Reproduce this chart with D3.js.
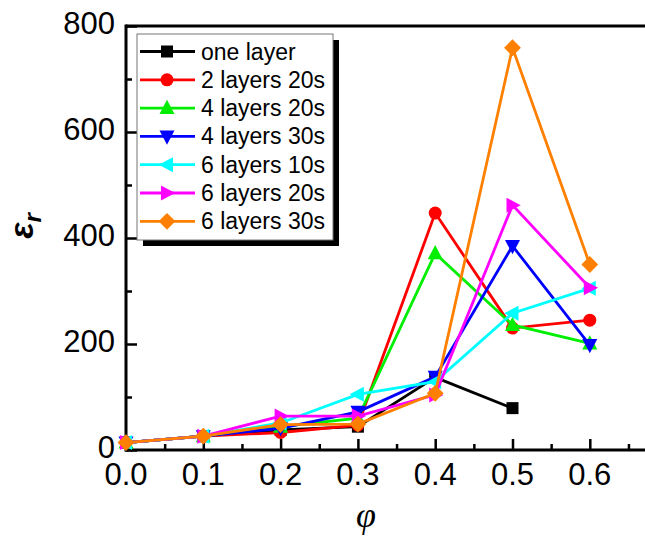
<!DOCTYPE html>
<html><head><meta charset="utf-8">
<script src="https://cdn.jsdelivr.net/npm/d3@7"></script>
<style>body{margin:0;background:#fff}svg{display:block}</style>
</head><body>
<svg id="c" width="645" height="537"></svg>
<script>
const phi = [0.0, 0.1, 0.2, 0.3, 0.4, 0.5, 0.6];
const seriesNames = ["one layer", "2 layers 20s", "4 layers 20s", "4 layers 30s", "6 layers 10s", "6 layers 20s", "6 layers 30s"];
const seriesColors = ["#000000", "#ff0000", "#00ee00", "#0000ff", "#00ffff", "#ff00ff", "#ff8000"];
const seriesMarkers = ["square", "circle", "triUp", "triDown", "triLeft", "triRight", "diamond"];
const oneLayer   = [14, 26, 38, 44, 137, 79, null];
const l2s20      = [14, 26, 33, 47, 447, 230, 245];
const l4s20      = [14, 26, 44, 60, 371, 236, 201];
const l4s30      = [14, 26, 41, 72, 138, 385, 198];
const l6s10      = [14, 26, 51, 105, 129, 258, 305];
const l6s20      = [14, 26, 64, 64, 104, 462, 306];
const l6s30      = [14, 26, 48, 49, 107, 759, 350];
const seriesValues = [oneLayer, l2s20, l4s20, l4s30, l6s10, l6s20, l6s30];
const xTicks = [0.0, 0.1, 0.2, 0.3, 0.4, 0.5, 0.6];
const yTicks = [0, 200, 400, 600, 800];

const svg = d3.select("#c");
const L = 126, T = 26, B = 450;
const x = d3.scaleLinear().domain([0, 0.7]).range([L, L + 0.7 * 773]);
const y = d3.scaleLinear().domain([0, 800]).range([B, T]);
const sans = "Arial, 'Liberation Sans', sans-serif";

// frame top
svg.append("line").attr("x1", L).attr("x2", 700).attr("y1", T).attr("y2", T)
  .attr("stroke", "#000").attr("stroke-width", 3);

// axes
const xAxis = d3.axisBottom(x).tickValues(d3.range(0, 0.701, 0.05)).tickSize(0).tickFormat("");
const gx = svg.append("g").attr("transform", `translate(0,${B})`).call(xAxis);
gx.select(".domain").remove();
gx.append("line").attr("x1", L - 1).attr("x2", 700).attr("stroke", "#000").attr("stroke-width", 3);
gx.selectAll(".tick").append("line")
  .attr("y2", (d) => (Math.round(d * 100) % 10 === 0 ? -11 : -6))
  .attr("stroke", "#000").attr("stroke-width", 2.5);
gx.selectAll(".xl").data(xTicks).enter().append("text")
  .attr("x", d => x(d)).attr("y", 35).attr("text-anchor", "middle").attr("fill", "#000")
  .attr("font-family", sans).attr("font-size", 31)
  .text(d => d.toFixed(1));

const yAxis = d3.axisLeft(y).tickValues(d3.range(0, 801, 100)).tickSize(0).tickFormat("");
const gy = svg.append("g").attr("transform", `translate(${L},0)`).call(yAxis);
gy.select(".domain").remove();
gy.append("line").attr("y1", T - 1.5).attr("y2", B + 1.5).attr("stroke", "#000").attr("stroke-width", 3);
gy.selectAll(".tick").append("line")
  .attr("x2", d => (d % 200 === 0 ? 11 : 6))
  .attr("stroke", "#000").attr("stroke-width", 2.5);
gy.selectAll(".yl").data(yTicks).enter().append("text")
  .attr("x", -11).attr("y", d => y(d) + 8).attr("text-anchor", "end").attr("fill", "#000")
  .attr("font-family", sans).attr("font-size", 31)
  .text(d => d);

// axis titles
svg.append("text").attr("transform", "translate(33,226) rotate(-90)")
  .attr("text-anchor", "middle").attr("font-family", sans)
  .attr("font-size", 34).attr("font-weight", "bold").attr("font-style", "italic")
  .call(t => { t.append("tspan").text("ε"); t.append("tspan").attr("font-size", 24).attr("dy", 8).text("r"); });
svg.append("text").attr("x", 366).attr("y", 527).attr("text-anchor", "middle")
  .attr("font-family", "'Liberation Serif','DejaVu Serif',serif")
  .attr("font-size", 36).attr("font-style", "italic").text("φ");

// markers
function markerPath(type, s) {
  const h = s / 2;
  switch (type) {
    case "square": return `M${-h},${-h}H${h}V${h}H${-h}Z`;
    case "circle": return d3.symbol(d3.symbolCircle, Math.PI * h * h)();
    case "triUp": return `M0,${-h * 1.1}L${h},${h * 0.8}L${-h},${h * 0.8}Z`;
    case "triDown": return `M0,${h * 1.1}L${h},${-h * 0.8}L${-h},${-h * 0.8}Z`;
    case "triLeft": return `M${-h * 1.1},0L${h * 0.8},${-h}L${h * 0.8},${h}Z`;
    case "triRight": return `M${h * 1.1},0L${-h * 0.8},${-h}L${-h * 0.8},${h}Z`;
    case "diamond": return `M0,${-h * 1.2}L${h * 1.2},0L0,${h * 1.2}L${-h * 1.2},0Z`;
  }
}
const sizes = {square: 12, circle: 13, triUp: 15, triDown: 15, triLeft: 15, triRight: 15, diamond: 14};

const line = d3.line().defined(d => d[1] != null).x(d => x(d[0])).y(d => y(d[1]));
seriesValues.forEach((vals, i) => {
  const pts = phi.map((p, j) => [p, vals[j]]);
  const g = svg.append("g");
  g.append("path").attr("d", line(pts)).attr("fill", "none")
    .attr("stroke", seriesColors[i]).attr("stroke-width", 2.8).attr("stroke-linejoin", "miter");
  g.selectAll("path.m").data(pts.filter(d => d[1] != null)).enter().append("path")
    .attr("class", "m")
    .attr("transform", d => `translate(${x(d[0])},${y(d[1])})`)
    .attr("d", markerPath(seriesMarkers[i], sizes[seriesMarkers[i]]))
    .attr("fill", seriesColors[i]);
});

// legend
const lg = svg.append("g");
lg.append("rect").attr("x", 143).attr("y", 40).attr("width", 196).attr("height", 206).attr("fill", "#000");
lg.append("rect").attr("x", 137).attr("y", 34).attr("width", 196).attr("height", 206)
  .attr("fill", "#fff").attr("stroke", "#777").attr("stroke-width", 1);
seriesNames.forEach((n, i) => {
  const yy = 51.5 + i * 28.3;
  lg.append("line").attr("x1", 140).attr("x2", 195).attr("y1", yy).attr("y2", yy)
    .attr("stroke", seriesColors[i]).attr("stroke-width", 2.8);
  lg.append("path").attr("transform", `translate(167,${yy})`)
    .attr("d", markerPath(seriesMarkers[i], sizes[seriesMarkers[i]])).attr("fill", seriesColors[i]);
  lg.append("text").attr("x", 201).attr("y", yy + 8)
    .attr("font-family", sans).attr("font-size", 23).text(n);
});
</script>
</body></html>
